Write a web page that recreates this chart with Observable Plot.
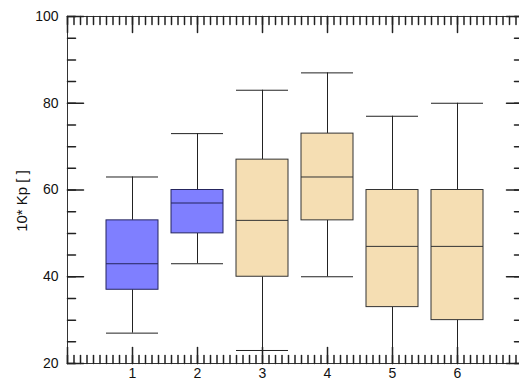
<!DOCTYPE html>
<html>
<head>
<meta charset="utf-8">
<script src="https://cdn.jsdelivr.net/npm/d3@7"></script>
<script src="https://cdn.jsdelivr.net/npm/@observablehq/plot@0.6"></script>
<style>
  html, body { margin: 0; padding: 0; background: #fff; overflow: hidden; }
  #chart svg { display: block; }
</style>
</head>
<body>
<div id="chart"></div>
<script>
const categories = [1, 2, 3, 4, 5, 6];
const lowWhisker = [27, 43, 23, 40, 20, 20];
const q1Values = [37, 50, 40, 53, 33, 30];
const medianValues = [43, 57, 53, 63, 47, 47];
const q3Values = [53, 60, 67, 73, 60, 60];
const highWhisker = [63, 73, 83, 87, 77, 80];
const groups = ["A", "A", "B", "B", "B", "B"];
const xTickLabels = [1, 2, 3, 4, 5, 6];
const yTickLabels = [20, 40, 60, 80, 100];
const yTitle = "10* Kp [ ]";

const rows = categories.map((c, i) => ({
  cat: c, low: lowWhisker[i], q1: q1Values[i], med: medianValues[i],
  q3: q3Values[i], high: highWhisker[i], group: groups[i]
}));

const halfWidth = 0.4;
const ink = "#222";
const tickShape = { draw(context, l) { context.moveTo(0, 0); context.lineTo(0, -l); } };

const xMinor = d3.range(0, 71).map(i => i / 10);
const xMajor = d3.range(0, 8);
const yMinor = d3.range(20, 101, 5);
const yMajor = d3.range(20, 101, 20);

const chart = Plot.plot({
  width: 519,
  height: 381,
  marginLeft: 67,
  marginTop: 16,
  marginBottom: 18,
  marginRight: 0,
  style: { fontFamily: "'Liberation Sans', Arial, sans-serif", fontSize: "14px", color: "#111", background: "#fff" },
  x: { domain: [0, 7], range: [67, 522] },
  y: { domain: [20, 100] },
  color: { domain: ["A", "B"], range: ["#7f7fff", "#f5deb3"] },
  marks: [
    // whiskers
    Plot.ruleX(rows, { x: "cat", y1: "low", y2: "q1", stroke: ink, strokeWidth: 1 }),
    Plot.ruleX(rows, { x: "cat", y1: "q3", y2: "high", stroke: ink, strokeWidth: 1 }),
    Plot.ruleY(rows, { y: "low", x1: d => d.cat - halfWidth, x2: d => d.cat + halfWidth, stroke: ink }),
    Plot.ruleY(rows, { y: "high", x1: d => d.cat - halfWidth, x2: d => d.cat + halfWidth, stroke: ink }),
    // boxes
    Plot.rect(rows, {
      x1: d => d.cat - halfWidth, x2: d => d.cat + halfWidth, y1: "q1", y2: "q3",
      fill: "group", stroke: d => d.group === "A" ? "#25255e" : "#333", strokeWidth: 1
    }),
    Plot.ruleY(rows, { y: "med", x1: d => d.cat - halfWidth, x2: d => d.cat + halfWidth,
      stroke: d => d.group === "A" ? "#25255e" : "#333" }),
    // frame
    Plot.frame({ stroke: "#333" }),
    // bottom ticks
    Plot.vector(xMinor, { x: d => d, y: () => 20, length: 8, rotate: 0, anchor: "start", shape: tickShape, stroke: ink }),
    Plot.vector(xMajor, { x: d => d, y: () => 20, length: 16, rotate: 0, anchor: "start", shape: tickShape, stroke: ink }),
    // top ticks
    Plot.vector(xMinor, { x: d => d, y: () => 100, length: 8, rotate: 180, anchor: "start", shape: tickShape, stroke: ink }),
    Plot.vector(xMajor, { x: d => d, y: () => 100, length: 16, rotate: 180, anchor: "start", shape: tickShape, stroke: ink }),
    // left ticks
    Plot.vector(yMinor, { x: () => 0, y: d => d, length: 8, rotate: 90, anchor: "start", shape: tickShape, stroke: ink }),
    Plot.vector(yMajor, { x: () => 0, y: d => d, length: 16, rotate: 90, anchor: "start", shape: tickShape, stroke: ink }),
    // right ticks
    Plot.vector(yMinor, { x: () => 7, y: d => d, length: 8, rotate: 270, anchor: "start", shape: tickShape, stroke: ink }),
    Plot.vector(yMajor, { x: () => 7, y: d => d, length: 16, rotate: 270, anchor: "start", shape: tickShape, stroke: ink }),
    // labels
    Plot.axisX({ ticks: xTickLabels, tickSize: 0, tickPadding: 5, tickFormat: d => String(d), label: null, fontSize: 14, fill: "#111" }),
    Plot.axisY({ ticks: yTickLabels, tickSize: 0, tickPadding: 9, tickFormat: d => String(d), label: null, fontSize: 14, fill: "#111" }),
    Plot.text([yTitle], { text: d => d, frameAnchor: "left", rotate: -90, dx: -45, dy: 11, fontSize: 15, fill: "#111", textAnchor: "middle", lineAnchor: "middle" })
  ]
});

document.getElementById("chart").appendChild(chart);
</script>
</body>
</html>
